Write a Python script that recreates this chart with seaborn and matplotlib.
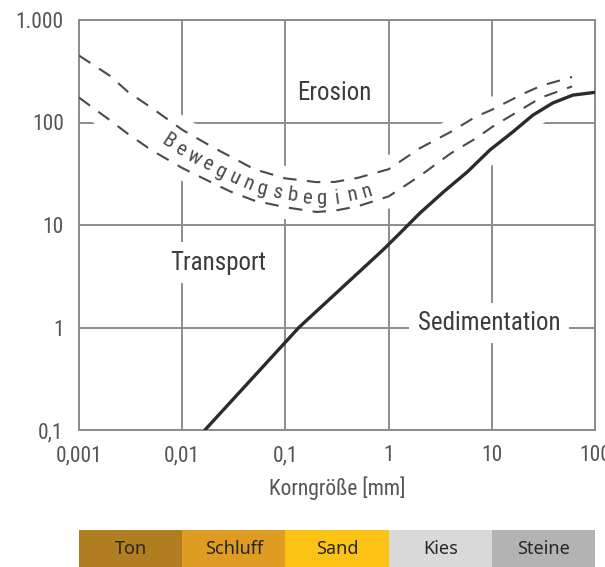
import os
import numpy as np
import matplotlib
matplotlib.use("Agg")
import matplotlib.pyplot as plt
import seaborn as sns
from matplotlib import font_manager
from matplotlib.font_manager import FontProperties

# grain size [mm] and flow velocity [cm/s]
grain_dash = [0.001, 0.002, 0.003, 0.005, 0.01, 0.02, 0.03, 0.05, 0.1, 0.2,
              0.3, 0.5, 1, 2, 4, 7, 10, 20, 30, 60]
erosion_upper = [450, 285, 198, 140, 85, 57, 46, 35, 28.5, 26.2,
                 26.3, 28.8, 35, 56, 81, 114, 133, 190, 228, 278]
erosion_lower = [175, 105, 77, 54, 36, 25.5, 21, 17.3, 14.9, 13.4,
                 13.8, 15.2, 19, 30, 50, 70, 90, 137, 175, 225]

grain_sed = [0.0166, 0.135, 0.88, 1.3, 2, 3.4, 5.8, 9.6, 16, 25, 39, 61, 100]
sed_velocity = [0.1, 1, 5.7, 8.4, 13, 21, 33, 54, 81, 118, 155, 185, 197]

x_ticks = [0.001, 0.01, 0.1, 1, 10, 100]
x_ticklabels = ["0,001", "0,01", "0,1", "1", "10", "100"]
y_ticks = [0.1, 1, 10, 100, 1000]
y_ticklabels = ["0,1", "1", "10", "100", "1.000"]

class_names = ["Ton", "Schluff", "Sand", "Kies", "Steine"]
class_edges = [0.001, 0.01, 0.1, 1, 10, 100]
class_colors = ["#b07d20", "#e09b22", "#fcc314", "#d9d9d9", "#b3b3b3"]

curve_text = "Bewegungsbeginn"

sns.set_theme(style="white")
plt.rcParams["font.family"] = ["DejaVu Sans"]


def find_narrow_font():
    # look for a condensed sans font file, fall back to None
    prefs = ["robotocondensed-regular", "liberationsansnarrow-regular",
             "dejavusanscondensed.ttf", "opensans_condensed-regular",
             "opensanscondensed-regular", "notosans-condensed.ttf",
             "notosanscondensed-regular", "notosans-condensed"]
    files = [f.fname for f in font_manager.fontManager.ttflist]
    for p in prefs:
        for fn in files:
            if os.path.basename(fn).lower().startswith(p):
                return fn
    return None


narrow_file = find_narrow_font()
scale = 1.0 if narrow_file else 0.84


def fp(size):
    if narrow_file:
        return FontProperties(fname=narrow_file, size=size)
    return FontProperties(family="DejaVu Sans", size=size * scale)


fig = plt.figure(figsize=(6.05, 5.67), dpi=100)
ax = fig.add_axes([79 / 605, 137 / 567, 516 / 605, 410 / 567])
ax.set_xscale("log")
ax.set_yscale("log")
ax.set_xlim(0.001, 100)
ax.set_ylim(0.1, 1000)

grid_col = "#8c8c8c"
ax.set_axisbelow(True)
ax.grid(True, which="major", color=grid_col, lw=1.4)
ax.minorticks_off()
for sp in ax.spines.values():
    sp.set_color(grid_col)
    sp.set_linewidth(1.4)
ax.xaxis.set_major_locator(matplotlib.ticker.FixedLocator(x_ticks))
ax.yaxis.set_major_locator(matplotlib.ticker.FixedLocator(y_ticks))
ax.set_xticklabels(x_ticklabels)
ax.set_yticklabels(y_ticklabels)
ax.tick_params(length=0, labelcolor="#555555")
ax.tick_params(axis="y", pad=11)
ax.tick_params(axis="x", pad=11)
for lab in ax.get_xticklabels() + ax.get_yticklabels():
    lab.set_fontproperties(fp(15.5))
ax.set_xlabel("Korngröße [mm]", fontproperties=fp(15.5), color="#555555", labelpad=7)

# white band behind the curves (cuts the grid like in the original)
ax.fill_between(grain_dash, erosion_lower, erosion_upper, color="white", lw=0, zorder=1)
for yy in (erosion_upper, erosion_lower):
    sns.lineplot(x=grain_dash, y=yy, ax=ax, color="white", lw=17, zorder=1)
top_part = [i for i, g in enumerate(grain_sed) if g >= 3]
sns.lineplot(x=[grain_sed[i] for i in top_part], y=[sed_velocity[i] for i in top_part],
             ax=ax, color="white", lw=18, zorder=1)

dash_style = (0, (6.5, 5))
sns.lineplot(x=grain_dash, y=erosion_upper, ax=ax, color="#4a4a4a", lw=1.5,
             linestyle=dash_style, zorder=3)
sns.lineplot(x=grain_dash, y=erosion_lower, ax=ax, color="#4a4a4a", lw=1.5,
             linestyle=dash_style, zorder=3)
sns.lineplot(x=grain_sed, y=sed_velocity, ax=ax, color="#2b2b2b", lw=2.4, zorder=3)
ax.set_xlim(0.001, 100)
ax.set_ylim(0.1, 1000)

label_kw = dict(color="#3c3c3c", ha="center", va="baseline", zorder=2)
box = dict(facecolor="white", edgecolor="none", pad=6)
ax.text(0.296, 166, "Erosion", fontproperties=fp(18), **label_kw)
ax.text(0.0222, 3.68, "Transport", fontproperties=fp(18), bbox=box, **label_kw)
ax.text(9.4, 0.946, "Sedimentation", fontproperties=fp(18), bbox=box, **label_kw)

# letters of "Bewegungsbeginn" following the middle of the dashed band
lx = np.log10(grain_dash)
lmid = (np.log10(erosion_upper) + np.log10(erosion_lower)) / 2
xs = np.linspace(np.log10(0.0073), np.log10(0.62), 600)
ys = np.interp(xs, lx, lmid)
pts = ax.transData.transform(np.column_stack([10 ** xs, 10 ** ys]))
arc = np.concatenate([[0], np.cumsum(np.hypot(*np.diff(pts, axis=0).T))])
for i, ch in enumerate(curve_text):
    s = arc[-1] * i / (len(curve_text) - 1)
    px = np.interp(s, arc, pts[:, 0])
    py = np.interp(s, arc, pts[:, 1]) - 2
    a0 = np.array([np.interp(s - 9, arc, pts[:, 0]), np.interp(s - 9, arc, pts[:, 1])])
    a1 = np.array([np.interp(s + 9, arc, pts[:, 0]), np.interp(s + 9, arc, pts[:, 1])])
    ang = np.degrees(np.arctan2(a1[1] - a0[1], a1[0] - a0[0]))
    dx, dy = ax.transData.inverted().transform((px, py))
    ax.text(dx, dy, ch, fontproperties=fp(15), color="#4a4a4a", rotation=ang,
            rotation_mode="anchor", ha="center", va="center", zorder=4)

# grain size classes below the chart
bar = fig.add_axes([79 / 605, 0, 516 / 605, 37 / 567])
bar.set_xscale("log")
for name, left, right, col in zip(class_names, class_edges[:-1], class_edges[1:], class_colors):
    bar.barh(0, right - left, left=left, height=1, color=col, lw=0)
    bar.text(np.sqrt(left * right), 0, name, ha="center", va="center",
             fontsize=13, color="#262626", family=["Noto Sans", "DejaVu Sans"])
bar.set_xlim(0.001, 100)
bar.set_ylim(-0.5, 0.5)
bar.axis("off")

fig.savefig("out.png", dpi=100)
